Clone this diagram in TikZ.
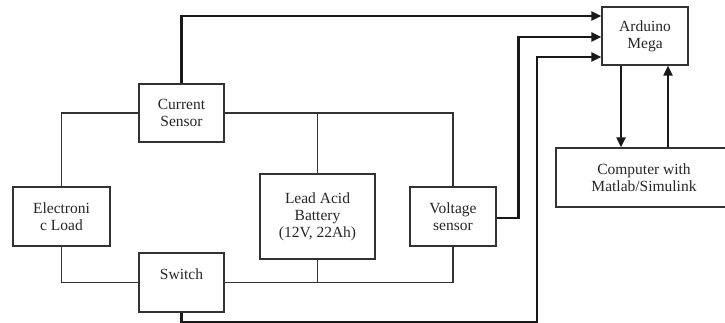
\documentclass[tikz,border=0pt]{standalone}
\usepackage{fontspec}
\setmainfont{Liberation Serif}
\usetikzlibrary{arrows.meta,positioning,calc}
\tikzset{
	blockbox/.style={rectangle, draw=black!80, line width=1.2pt, fill=white,
		align=center, font=\fontsize{15.5}{17}\selectfont, text=black!85, inner sep=2pt},
	wire/.style={draw=black!80, line width=1.2pt},
	sigarr/.style={-{Triangle[length=10pt,width=9pt]}, line width=2.6pt, draw=black!90},
	pcarr/.style={-{Triangle[length=10pt,width=9pt]}, line width=2pt, draw=black!90}
}
\begin{document}
\begin{tikzpicture}[x=1pt, y=-1pt]
	\useasboundingbox (0,0) rectangle (725,323);
	% blocks
	\node[blockbox, minimum width=85pt, minimum height=58pt] (cur) at (181.5,113) {Current\\Sensor};
	\node[blockbox, minimum width=97pt, minimum height=59pt] (load) at (61.5,216.5) {Electroni\\c Load};
	\node[blockbox, minimum width=115pt, minimum height=85pt] (batt) at (317.5,216.5) {Lead Acid\\Battery\\(12V, 22Ah)};
	\node[blockbox, minimum width=86pt, minimum height=59pt] (volt) at (453,216.5) {Voltage\\sensor};
	\node[blockbox, minimum width=85pt, minimum height=59pt] (sw) at (181.5,282.5) {Switch\\\mbox{}};
	\node[blockbox, minimum width=86pt, minimum height=58pt] (ard) at (645,36) {Arduino\\Mega};
	\node[blockbox, minimum width=176pt, minimum height=59pt] (comp) at (644,177.5) {Computer with\\Matlab/Simulink};
	% input points on the Arduino
	\coordinate (a1) at ([yshift=20pt]ard.west);
	\coordinate (a2) at ([yshift=-1pt]ard.west);
	\coordinate (a3) at ([yshift=-21pt]ard.west);
	\coordinate (bot) at (537,322);
	% power circuit
	\draw[wire] (load.north) |- (cur.west);
	\draw[wire] (cur.east) -| (volt.north);
	\draw[wire] (batt.north) -- (batt.north |- cur.east);
	\draw[wire] (load.south) |- (sw.west);
	\draw[wire] (sw.east) -| (volt.south);
	\draw[wire] (batt.south) -- (batt.south |- sw.east);
	% signals
	\draw[sigarr] (cur.north) |- (a1);
	\draw[sigarr] ([yshift=-1.5pt]volt.east) -- ++(22,0) |- (a2);
	\draw[sigarr] (sw.south) |- (bot) |- (a3);
	\draw[pcarr] ([xshift=-24pt]ard.south) -- ([xshift=-24pt]ard.south |- comp.north);
	\draw[pcarr] ([xshift=23pt]ard.south |- comp.north) -- ([xshift=23pt]ard.south);
\end{tikzpicture}
\end{document}
